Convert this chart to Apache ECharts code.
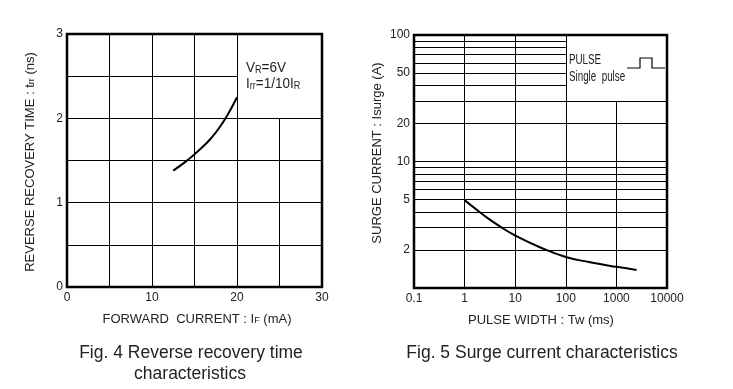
<!DOCTYPE html>
<html>
<head>
<meta charset="utf-8">
<script src="https://cdn.jsdelivr.net/npm/echarts@6/dist/echarts.min.js"></script>
<style>
html,body{margin:0;padding:0;background:#fff;}
#c{width:733px;height:389px;}
</style>
</head>
<body>
<div id="c"></div>
<script>
// Fig. 4 : reverse recovery time vs forward current
const fig4Current = [12.5, 14, 15, 16, 17, 18, 19, 20];
const fig4Trr = [1.38, 1.49, 1.575, 1.665, 1.77, 1.90, 2.06, 2.25];
const fig4XTicks = [0, 10, 20, 30];
const fig4YTicks = [0, 1, 2, 3];
const fig4GridX = [5, 10, 15, 20, 25];
const fig4GridY = [0.5, 1, 1.5, 2, 2.5];

// Fig. 5 : surge current vs pulse width
const fig5Width = [1, 1.6, 3, 5, 10, 30, 100, 300, 1000, 2500];
const fig5Surge = [4.95, 4.26, 3.52, 3.07, 2.60, 2.11, 1.76, 1.60, 1.47, 1.39];
const fig5XTicks = [0.1, 1, 10, 100, 1000, 10000];
const fig5YTicks = [2, 5, 10, 20, 50, 100];
const fig5GridX = [1, 10, 100, 1000];
const fig5GridY = [2, 3, 4, 5, 6, 7, 8, 9, 10, 20, 30, 40, 50, 60, 70, 80, 90];

const TXT = '#222';
const FONT = "'Liberation Sans', Arial, sans-serif";

function seg(a, b) { return [{coord: a}, {coord: b}]; }

// grid segments, leaving the note box corner empty
const fig4Lines = [];
fig4GridX.forEach(x => fig4Lines.push(seg([x, 0], [x, x > 20 ? 2 : 3])));
fig4GridY.forEach(y => fig4Lines.push(seg([0, y], [y > 2 ? 20 : 30, y])));
const fig5Lines = [];
fig5GridX.forEach(x => fig5Lines.push(seg([x, 1], [x, x > 100 ? 30 : 100])));
fig5GridY.forEach(y => fig5Lines.push(seg([0.1, y], [y > 30 ? 100 : 10000, y])));

function gridMark(lines) {
  return {
    silent: true, symbol: ['none', 'none'], animation: false,
    label: {show: false},
    lineStyle: {color: '#000', width: 1, type: 'solid', opacity: 1},
    emphasis: {disabled: true},
    data: lines
  };
}

const axisCommon = {
  axisLine: {show: false}, axisTick: {show: false}, splitLine: {show: false}
};
const labelStyle = {color: TXT, fontSize: 12, fontFamily: FONT};

const chart = echarts.init(document.getElementById('c'), null, {renderer: 'canvas'});
chart.setOption({
  animation: false,
  backgroundColor: '#fff',
  grid: [
    {left: 67, top: 34, width: 255, height: 253, show: true, borderColor: '#000', borderWidth: 2.5, backgroundColor: 'transparent'},
    {left: 414, top: 35, width: 253, height: 253, show: true, borderColor: '#000', borderWidth: 2.5, backgroundColor: 'transparent'}
  ],
  xAxis: [
    Object.assign({gridIndex: 0, type: 'value', min: 0, max: 30, interval: 10,
      axisLabel: Object.assign({margin: 5, customValues: fig4XTicks}, labelStyle)}, axisCommon),
    Object.assign({gridIndex: 1, type: 'log', logBase: 10, min: 0.1, max: 10000,
      axisLabel: Object.assign({margin: 5, customValues: fig5XTicks,
        formatter: v => String(+(+v).toPrecision(3))}, labelStyle)}, axisCommon)
  ],
  yAxis: [
    Object.assign({gridIndex: 0, type: 'value', min: 0, max: 3, interval: 1,
      axisLabel: Object.assign({margin: 4, customValues: fig4YTicks}, labelStyle)}, axisCommon),
    Object.assign({gridIndex: 1, type: 'log', logBase: 10, min: 1, max: 100,
      axisLabel: Object.assign({margin: 4, customValues: fig5YTicks,
        formatter: v => String(+(+v).toPrecision(3))}, labelStyle)}, axisCommon)
  ],
  series: [
    {type: 'line', xAxisIndex: 0, yAxisIndex: 0, data: [], markLine: gridMark(fig4Lines)},
    {type: 'line', xAxisIndex: 1, yAxisIndex: 1, data: [], markLine: gridMark(fig5Lines)},
    {type: 'line', xAxisIndex: 0, yAxisIndex: 0, z: 5, smooth: 0.5, showSymbol: false, symbol: 'none',
      lineStyle: {color: '#000', width: 2}, data: fig4Current.map((x, i) => [x, fig4Trr[i]])},
    {type: 'line', xAxisIndex: 1, yAxisIndex: 1, z: 5, smooth: 0.5, showSymbol: false, symbol: 'none',
      lineStyle: {color: '#000', width: 2}, data: fig5Width.map((x, i) => [x, fig5Surge[i]])}
  ],
  graphic: [
    {type: 'text', x: 30, y: 162, rotation: Math.PI / 2,
      style: {text: 'REVERSE RECOVERY TIME : t{s|rr} (ns)', fill: TXT, font: '13px ' + FONT,
        align: 'center', verticalAlign: 'middle',
        rich: {s: {fontSize: 9, fill: TXT, fontFamily: FONT, verticalAlign: 'bottom'}}}},
    {type: 'text', x: 197, y: 319,
      style: {text: 'FORWARD  CURRENT : I{s|F} (mA)', fill: TXT, font: '13px ' + FONT,
        align: 'center', verticalAlign: 'middle',
        rich: {s: {fontSize: 9, fill: TXT, fontFamily: FONT, verticalAlign: 'bottom'}}}},
    {type: 'text', x: 377, y: 153, rotation: Math.PI / 2,
      style: {text: 'SURGE CURRENT : Isurge (A)', fill: TXT, font: '13px ' + FONT,
        align: 'center', verticalAlign: 'middle'}},
    {type: 'text', x: 541, y: 320,
      style: {text: 'PULSE WIDTH : Tw (ms)', fill: TXT, font: '13px ' + FONT,
        align: 'center', verticalAlign: 'middle'}},
    {type: 'text', x: 191, y: 353,
      style: {text: 'Fig. 4 Reverse recovery time', fill: TXT, font: '17.5px ' + FONT,
        align: 'center', verticalAlign: 'middle'}},
    {type: 'text', x: 190, y: 374,
      style: {text: 'characteristics', fill: TXT, font: '17.5px ' + FONT,
        align: 'center', verticalAlign: 'middle'}},
    {type: 'text', x: 542, y: 353,
      style: {text: 'Fig. 5 Surge current characteristics', fill: TXT, font: '17.5px ' + FONT,
        align: 'center', verticalAlign: 'middle'}},
    {type: 'text', x: 246, y: 68, scaleX: 0.9,
      style: {text: 'V{s|R}=6V', fill: TXT, font: '15px ' + FONT, verticalAlign: 'middle',
        rich: {s: {fontSize: 10, fill: TXT, fontFamily: FONT, verticalAlign: 'bottom'}}}},
    {type: 'text', x: 246, y: 84, scaleX: 0.9,
      style: {text: 'I{s|rr}=1/10I{s|R}', fill: TXT, font: '15px ' + FONT, verticalAlign: 'middle',
        rich: {s: {fontSize: 10, fill: TXT, fontFamily: FONT, verticalAlign: 'bottom'}}}},
    {type: 'text', x: 569, y: 60, scaleX: 0.7,
      style: {text: 'PULSE', fill: TXT, font: '14px ' + FONT, verticalAlign: 'middle'}},
    {type: 'text', x: 569, y: 77, scaleX: 0.7,
      style: {text: 'Single  pulse', fill: TXT, font: '14px ' + FONT, verticalAlign: 'middle'}},
    {type: 'polyline', shape: {points: [[627, 68], [640, 68], [640, 58], [652, 58], [652, 68], [665, 68]]},
      style: {stroke: '#000', lineWidth: 1.2, fill: null}}
  ]
});
</script>
</body>
</html>
